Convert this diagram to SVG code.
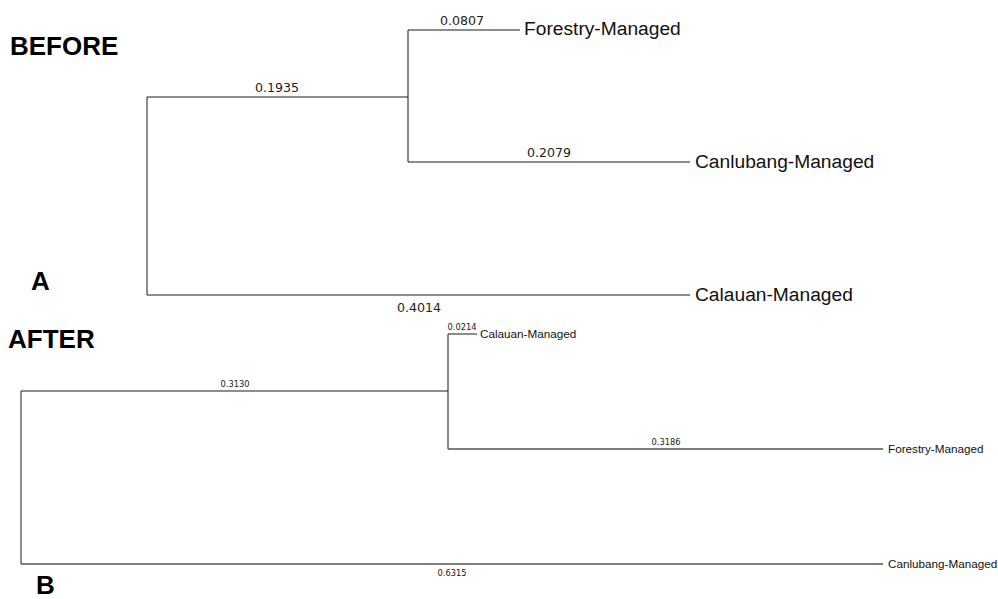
<svg xmlns="http://www.w3.org/2000/svg" width="998" height="599" viewBox="0 0 998 599">
<style>
.e{fill:none;stroke:#1a1a1a;stroke-width:1}
.g{fill:none;stroke:#555;stroke-width:1.6}
.h{font-family:"Liberation Sans",Arial,sans-serif;font-weight:bold;font-size:26px;fill:#000}
.t1{font-family:"Liberation Sans",Arial,sans-serif;font-size:19.2px;fill:#111}
.t2{font-family:"Liberation Sans",Arial,sans-serif;font-size:11.7px;fill:#111}
.b1{font-family:"DejaVu Sans",Verdana,sans-serif;font-size:12.6px;fill:#222;text-anchor:middle}
.b2{font-family:"DejaVu Sans",Verdana,sans-serif;font-size:8.3px;fill:#222;text-anchor:middle}
</style>
<rect width="998" height="599" fill="#fff"/>
<g id="titles">
<text class="h" x="10" y="55">BEFORE</text>
<text class="h" x="31" y="290">A</text>
<text class="h" x="8" y="348">AFTER</text>
<text class="h" x="36" y="594">B</text>
</g>
<g id="connectors">
<path class="e" d="M147,97H408M147,97V295M408,30V162M408,30H520M408,162H690M147,295H690"/>
<path class="e" d="M21,391H448M21,391V564M448,334V449M448,334H477"/>
<path class="g" d="M448,449H883M21,564H883"/>
</g>
<g id="branch-labels">
<text class="b1" x="462" y="25">0.0807</text>
<text class="b1" x="277" y="92">0.1935</text>
<text class="b1" x="549" y="157">0.2079</text>
<text class="b1" x="419" y="312">0.4014</text>
<text class="b2" x="235" y="387">0.3130</text>
<text class="b2" x="462" y="330">0.0214</text>
<text class="b2" x="666" y="445">0.3186</text>
<text class="b2" x="452" y="576">0.6315</text>
</g>
<g id="a-forestry"><text class="t1" x="524" y="35">Forestry-Managed</text></g>
<g id="a-canlubang"><text class="t1" x="695" y="168">Canlubang-Managed</text></g>
<g id="a-calauan"><text class="t1" x="695" y="301">Calauan-Managed</text></g>
<g id="b-calauan"><text class="t2" x="480" y="338">Calauan-Managed</text></g>
<g id="b-forestry"><text class="t2" x="888" y="453">Forestry-Managed</text></g>
<g id="b-canlubang"><text class="t2" x="888" y="568">Canlubang-Managed</text></g>
</svg>
